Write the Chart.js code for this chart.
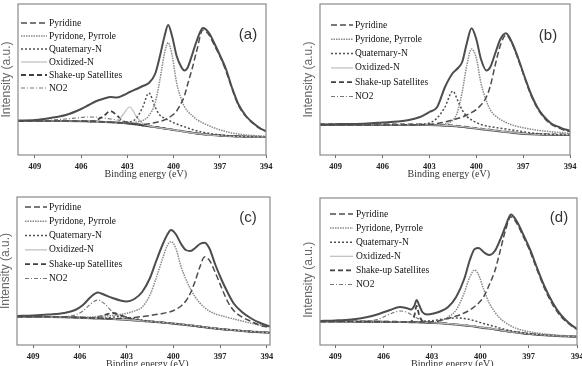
<!DOCTYPE html>
<html>
<head>
<meta charset="utf-8">
<script src="https://cdn.jsdelivr.net/npm/chart.js@4/dist/chart.umd.min.js"></script>
<style>
  html, body { margin: 0; padding: 0; background: #fff; }
  body { width: 582px; height: 366px; position: relative; overflow: hidden; }
  canvas { position: absolute; }
</style>
</head>
<body>
<canvas id="pa"></canvas>
<canvas id="pb"></canvas>
<canvas id="pc"></canvas>
<canvas id="pd"></canvas>
<script>
// binding energy ticks, same for all four panels
const xTicks = [409, 406, 403, 400, 397, 394];

// ---- panel (a)
const aBE = [410.1, 409, 408, 407, 406, 405.5, 405, 404.5, 404.1, 403.7, 403.3, 402.85, 402.4, 402, 401.6, 401.2, 400.9, 400.6, 400.35, 400.1, 399.8, 399.5, 399.3, 399.1, 398.8, 398.5, 398.1, 397.7, 397.3, 397, 396.6, 396.2, 395.8, 395.3, 394.8, 394.3, 394];
const aEnvelope = [34.5, 35, 37, 40, 46, 50, 54, 56.5, 58, 57.5, 59.5, 63, 66, 69, 72, 81, 98, 118, 130, 119, 99, 88, 84.5, 87, 100, 114, 127, 122, 110, 100, 86, 67, 51, 39, 31.5, 26, 24];
const aPyridine = [34, 34, 34, 34, 33.8, 33.6, 33.4, 33.1, 32.8, 32.4, 31.9, 31.4, 31.0, 30.6, 31.2, 32.5, 33.5, 35, 37, 39.5, 44, 52, 59, 70, 86, 104, 125, 120, 108, 99, 84, 66, 50, 38.5, 31, 25.5, 23.5];
const aPyridone = [34, 34, 34, 34, 33.8, 33.6, 33.5, 33.2, 33.0, 32.6, 32.2, 31.9, 33.0, 34.5, 39.5, 52, 74, 101, 112.3, 100, 72, 56, 48.5, 44, 39.5, 35.5, 32, 29.2, 26.8, 25.2, 23.5, 22.0, 21.0, 20.0, 19.4, 19.0, 18.8];
const aQuaternary = [34, 34, 34, 34, 33.8, 33.6, 33.4, 33.1, 32.9, 32.6, 32.4, 33, 37, 48, 62, 48, 40, 37, 35, 33, 31, 29.3, 28.2, 27.1, 25.6, 24.2, 22.8, 21.7, 20.8, 20.3, 19.6, 19.1, 18.8, 18.5, 18.3, 18.2, 18.1];
const aOxidized = [34, 34, 34, 34, 33.8, 33.6, 33.4, 33.1, 32.8, 33.5, 40, 48, 38, 31.5, 29.2, 28.0, 27.2, 26.5, 25.9, 25.3, 24.6, 23.9, 23.4, 22.9, 22.2, 21.5, 20.8, 20.2, 19.7, 19.4, 19.0, 18.7, 18.5, 18.3, 18.2, 18.1, 18];
const aShakeup = [34, 34, 34, 34, 33.9, 33.8, 35, 39.5, 44, 40, 34, 31.8, 30.6, 29.7, 28.9, 28.0, 27.3, 26.6, 26.0, 25.4, 24.7, 24.0, 23.5, 23.0, 22.3, 21.6, 20.9, 20.3, 19.8, 19.5, 19.1, 18.8, 18.6, 18.4, 18.3, 18.2, 18.1];
const aNO2 = [34, 34.2, 34.8, 36, 37.5, 38, 37.8, 37, 36, 35, 33.8, 32.5, 31.2, 30, 29.1, 28.2, 27.5, 26.8, 26.2, 25.6, 24.9, 24.2, 23.7, 23.2, 22.5, 21.8, 21.1, 20.5, 20.0, 19.7, 19.3, 19.0, 18.8, 18.6, 18.5, 18.4, 18.3];
const aBaseline = [34, 34, 34, 34, 33.8, 33.6, 33.4, 33.1, 32.8, 32.4, 31.9, 31.2, 30.4, 29.6, 28.8, 27.9, 27.2, 26.5, 25.9, 25.3, 24.6, 23.9, 23.4, 22.9, 22.2, 21.5, 20.8, 20.2, 19.7, 19.4, 19.0, 18.7, 18.5, 18.3, 18.2, 18.1, 18];

// ---- panel (b)
const bBE = [410, 409, 408, 407, 406, 405, 404.3, 403.6, 403, 402.5, 402, 401.5, 401.2, 400.9, 400.6, 400.3, 400, 399.7, 399.35, 399.1, 398.8, 398.45, 398.1, 397.7, 397.3, 396.9, 396.5, 396.1, 395.7, 395.2, 394.7, 394.3, 394];
const bEnvelope = [30.5, 30.8, 31, 31.5, 32.5, 33.5, 35, 38, 43, 48, 68, 82, 86.5, 93, 112, 126.7, 116, 96, 84.5, 88, 101, 116, 121.7, 112, 96, 78, 61, 48, 39, 31.5, 28, 25.5, 24.5];
const bPyridine = [30, 30, 30, 30, 30, 30.1, 30.2, 30.4, 30.7, 31.5, 33, 35, 36.5, 38, 40, 42.5, 45.5, 50, 58, 69, 89, 110, 120, 111, 95, 77, 60, 47, 38, 30.5, 27, 24.5, 23.5];
const bPyridone = [30, 30, 30, 30, 30, 30, 30, 30, 30, 29.8, 31, 35, 43, 63, 90, 106, 97, 72, 54, 45, 39.5, 35.5, 32.5, 30, 28.3, 27, 25.8, 24.8, 24, 23.2, 22.5, 22, 21.8];
const bQuaternary = [30, 30, 30, 30, 30, 30, 30, 30.5, 32, 37, 48, 64, 55, 45, 38.5, 35, 32.5, 30.5, 29, 28.3, 27.6, 26.8, 26, 25, 24, 23, 22.2, 21.5, 21, 20.5, 20.2, 20.1, 20];
const bOxidized = [30.3, 30.3, 30.3, 30.3, 30.3, 30.3, 30.3, 30.3, 30.2, 30, 29.6, 29.3, 28.9, 28.4, 27.9, 27.3, 26.7, 26.1, 25.5, 25.1, 24.5, 23.8, 23.2, 22.5, 21.9, 21.4, 21, 20.7, 20.5, 20.4, 20.3, 20.3, 20.3];
const bShakeup = [30.6, 30.6, 30.6, 30.6, 30.6, 30.6, 30.6, 30.5, 30.4, 30.2, 29.9, 29.5, 29.1, 28.6, 28.1, 27.5, 26.9, 26.3, 25.7, 25.3, 24.7, 24, 23.4, 22.7, 22.1, 21.6, 21.2, 20.9, 20.7, 20.6, 20.5, 20.5, 20.5];
const bNO2 = [31, 31, 31, 30.9, 30.8, 30.7, 30.6, 30.5, 30.3, 30, 29.6, 29.2, 28.8, 28.3, 27.8, 27.2, 26.6, 26, 25.4, 25, 24.4, 23.7, 23.1, 22.4, 21.8, 21.3, 20.9, 20.6, 20.4, 20.3, 20.2, 20.2, 20.2];
const bBaseline = [30, 30, 30, 30, 30, 30, 30, 30, 29.9, 29.7, 29.3, 29, 28.6, 28.1, 27.6, 27, 26.4, 25.8, 25.2, 24.8, 24.2, 23.5, 22.9, 22.2, 21.6, 21.1, 20.7, 20.4, 20.2, 20.1, 20, 20, 20];

// ---- panel (c)
const cBE = [410.03, 409, 408, 407, 406.3, 405.8, 405.3, 404.85, 404.4, 403.9, 403.4, 403, 402.5, 402, 401.5, 401.1, 400.7, 400.4, 400.15, 399.85, 399.5, 399.2, 398.9, 398.6, 398.3, 398, 397.7, 397.3, 396.9, 396.5, 396.1, 395.6, 395, 394.5, 393.8];
const cEnvelope = [29, 29.5, 30.5, 32, 35, 40, 48, 52.5, 50, 47, 44.5, 43.5, 46, 53, 67, 84, 100, 110, 115, 111, 101, 95, 94, 97, 101, 102.3, 97, 80, 65, 52, 41, 33, 26.5, 22.5, 18.5];
const cPyridine = [28.3, 28.3, 28.2, 28, 27.7, 27.4, 27.1, 26.8, 26.5, 26.3, 26.5, 27, 27.5, 28.5, 29.5, 30.5, 31.5, 32.5, 33.5, 35.5, 39, 44, 52, 64, 78, 88, 85, 72, 57, 43, 34, 28, 23.5, 20, 17.5];
const cPyridone = [28, 28, 28, 28, 28, 28, 28, 28.5, 29, 29.5, 30.5, 31.7, 34, 38, 50, 67, 86, 99, 103.3, 97, 78, 66, 56, 48, 42, 37.5, 34, 31, 29.3, 27.5, 26, 24, 21.7, 20, 18.5];
const cQuaternary = [28.2, 28.2, 28.1, 27.9, 27.6, 27.3, 27, 26.8, 26.8, 27.8, 28.5, 28, 26.5, 25, 23.7, 23.1, 22.6, 22.2, 21.8, 21.3, 20.7, 20.2, 19.7, 19.1, 18.5, 17.9, 17.3, 16.6, 16, 15.4, 14.9, 14.2, 13.5, 13, 12.4];
const cOxidized = [28.2, 28.2, 28.1, 27.9, 27.6, 27.3, 27, 26.7, 26.4, 26.1, 25.7, 25.3, 24.8, 24.2, 23.6, 23.1, 22.6, 22.2, 21.8, 21.3, 20.7, 20.2, 19.7, 19.1, 18.5, 17.9, 17.3, 16.6, 16, 15.4, 14.9, 14.2, 13.5, 13, 12.4];
const cShakeup = [28.1, 28.1, 28, 27.8, 27.5, 27.3, 27, 28, 30, 32, 30, 27.5, 25.5, 24.3, 23.6, 23.1, 22.6, 22.2, 21.8, 21.3, 20.7, 20.2, 19.7, 19.1, 18.5, 17.9, 17.3, 16.6, 16, 15.4, 14.9, 14.2, 13.5, 13, 12.4];
const cNO2 = [28, 28, 28, 28.5, 30, 34, 41, 45, 41, 33, 28, 26, 24.9, 24.2, 23.5, 23, 22.5, 22.1, 21.7, 21.2, 20.6, 20.1, 19.6, 19, 18.4, 17.8, 17.2, 16.5, 15.9, 15.3, 14.8, 14.1, 13.4, 12.9, 12.3];
const cBaseline = [28, 28, 27.9, 27.7, 27.4, 27.1, 26.8, 26.5, 26.2, 25.9, 25.5, 25.1, 24.6, 24, 23.4, 22.9, 22.4, 22, 21.6, 21.1, 20.5, 20, 19.5, 18.9, 18.3, 17.7, 17.1, 16.4, 15.8, 15.2, 14.7, 14, 13.3, 12.8, 12.2];

// ---- panel (d)
const dBE = [409.95, 409, 408, 407, 406.3, 405.6, 405, 404.6, 404.3, 404.1, 403.95, 403.8, 403.6, 403.3, 402.9, 402.5, 402, 401.5, 401, 400.65, 400.35, 400.1, 399.8, 399.45, 399.1, 398.8, 398.45, 398.1, 397.75, 397.35, 396.9, 396.5, 396, 395.5, 395, 394.5, 394];
const dEnvelope = [24, 24.5, 25.5, 28, 31, 35, 38, 37, 35.5, 39, 45, 40, 33, 30.5, 31.5, 33.5, 38, 48, 66, 85, 96, 97, 93, 90, 94, 104, 118, 130.5, 124, 111, 95, 78, 58, 42, 30, 22, 16];
const dPyridine = [23.5, 23.5, 23.4, 23.3, 23.2, 23.1, 23.1, 23.1, 23.1, 23.1, 23.1, 23.1, 23.1, 23.1, 23.2, 24.5, 26.5, 29, 32, 35, 38.5, 42, 48, 60, 74, 92, 114, 128.3, 122, 109, 93, 76, 56, 40, 28.5, 21, 15.5];
const dPyridone = [23.5, 23.5, 23.4, 23.3, 23.2, 23.1, 23, 22.9, 22.8, 22.7, 22.7, 22.6, 22.5, 22.4, 22.5, 24, 28, 35, 52, 68, 75, 70, 56, 42, 33, 27, 22.5, 19, 16.5, 14.5, 13, 12, 11, 10.2, 9.6, 9.2, 8.9];
const dQuaternary = [23.6, 23.6, 23.5, 23.4, 23.3, 23.2, 23.1, 23, 23, 23.1, 23.2, 23.3, 23.5, 24, 24.5, 25.5, 26.5, 27, 26.5, 25.5, 24.2, 23, 21.5, 20, 18.5, 17, 15.5, 14.2, 13.2, 12.2, 11.3, 10.6, 10, 9.5, 9.1, 8.8, 8.6];
const dOxidized = [23.7, 23.7, 23.6, 23.5, 23.4, 23.3, 23.2, 23.1, 23, 22.9, 22.9, 22.8, 22.7, 22.5, 22.2, 21.9, 21.3, 20.6, 19.8, 19.2, 18.6, 18, 17.3, 16.7, 15.8, 15, 14.2, 13.4, 12.6, 11.8, 11.1, 10.5, 9.9, 9.4, 9, 8.7, 8.5];
const dShakeup = [23.7, 23.7, 23.6, 23.5, 23.4, 23.3, 23.2, 23.1, 23.5, 29, 39, 30, 24, 22.6, 22.2, 21.9, 21.3, 20.6, 19.8, 19.2, 18.6, 18, 17.3, 16.7, 15.8, 15, 14.2, 13.4, 12.6, 11.8, 11.1, 10.5, 9.9, 9.4, 9, 8.7, 8.5];
const dNO2 = [23.6, 23.6, 23.6, 23.8, 26, 31, 34, 33, 30.5, 28.5, 27, 26, 24.5, 23, 22.3, 21.9, 21.3, 20.6, 19.8, 19.2, 18.6, 18, 17.3, 16.7, 15.8, 15, 14.2, 13.4, 12.6, 11.8, 11.1, 10.5, 9.9, 9.4, 9, 8.7, 8.5];
const dBaseline = [23.5, 23.5, 23.4, 23.3, 23.2, 23.1, 23, 22.9, 22.8, 22.7, 22.7, 22.6, 22.5, 22.3, 22, 21.7, 21.1, 20.4, 19.6, 19, 18.4, 17.8, 17.1, 16.5, 15.6, 14.8, 14, 13.2, 12.4, 11.6, 10.9, 10.3, 9.7, 9.2, 8.8, 8.5, 8.3];

// line look of each curve (envelope + baseline are not in the legend)
const look = {
  envelope:   { color: '#4d4d4d', width: 2,   dash: [] },
  pyridine:   { color: '#4d4d4d', width: 1.5, dash: [6, 3] },
  pyridone:   { color: '#8a8a8a', width: 1.5, dash: [1.5, 1] },
  quaternary: { color: '#505050', width: 1.5, dash: [2, 2] },
  oxidized:   { color: '#bdbdbd', width: 1.2, dash: [] },
  shakeup:    { color: '#404040', width: 1.8, dash: [5, 3] },
  no2:        { color: '#777', width: 1.2, dash: [4, 2, 1, 2] },
  baseline:   { color: '#505050', width: 2,   dash: [] }
};

// frame, legend in the plot area and the panel letter
const deco = {
  id: 'deco',
  afterDraw(chart, args, o) {
    const ctx = chart.ctx, a = chart.chartArea;
    ctx.save();
    ctx.strokeStyle = '#8a8a8a';
    ctx.lineWidth = 1.2;
    ctx.strokeRect(a.left, a.top, a.right - a.left, a.bottom - a.top);

    ctx.font = '9.5px "Liberation Serif"';
    ctx.textBaseline = 'middle';
    ctx.textAlign = 'left';
    let y = a.top + o.y0;
    chart.data.datasets.forEach(ds => {
      if (!ds.inLegend) return;
      ctx.beginPath();
      ctx.setLineDash(ds.borderDash);
      ctx.strokeStyle = ds.borderColor;
      ctx.lineWidth = ds.borderWidth;
      ctx.moveTo(a.left + o.x0, y);
      ctx.lineTo(a.left + o.x1, y);
      ctx.stroke();
      ctx.setLineDash([]);
      ctx.fillStyle = '#111';
      ctx.fillText(ds.label, a.left + o.tx, y);
      y += o.dy;
    });

    ctx.font = '15px "Liberation Sans"';
    ctx.textAlign = 'center';
    ctx.fillStyle = '#333';
    ctx.fillText(o.letter, a.left + o.lx, a.top + o.ly);
    ctx.restore();
  }
};

function line(label, data, key, inLegend) {
  const s = look[key];
  return {
    label: label, data: data, inLegend: inLegend,
    borderColor: s.color, borderWidth: s.width, borderDash: s.dash,
    pointRadius: 0, fill: false, cubicInterpolationMode: 'monotone'
  };
}

function panel(id, box, rp, beMin, beMax, be, s, leg) {
  const [l, t, r, b] = box;
  const cv = document.getElementById(id);
  const left = l - 18, top = t - 4;
  cv.width = r - left + rp;
  cv.height = b - top + 28;
  cv.style.left = left + 'px';
  cv.style.top = top + 'px';

  new Chart(cv, {
    type: 'line',
    data: {
      labels: be,
      datasets: [
        line('Envelope', s[0], 'envelope', false),
        line('Pyridine', s[1], 'pyridine', true),
        line('Pyridone, Pyrrole', s[2], 'pyridone', true),
        line('Quaternary-N', s[3], 'quaternary', true),
        line('Oxidized-N', s[4], 'oxidized', true),
        line('Shake-up Satellites', s[5], 'shakeup', true),
        line('NO2', s[6], 'no2', true),
        line('Background', s[7], 'baseline', false)
      ]
    },
    options: {
      responsive: false,
      animation: false,
      devicePixelRatio: 1,
      layout: { padding: { left: 0, top: 4, right: rp, bottom: 0 } },
      plugins: { legend: { display: false }, tooltip: { enabled: false }, deco: leg },
      scales: {
        x: {
          type: 'linear', reverse: true, min: beMin, max: beMax,
          afterBuildTicks: sc => { sc.ticks = xTicks.map(v => ({ value: v })); },
          afterFit: sc => { sc.height = 28; },
          grid: { drawOnChartArea: false, drawTicks: true, tickLength: 3, color: '#666' },
          border: { display: false },
          ticks: {
            autoSkip: false, maxRotation: 0, padding: 3.5, color: '#222',
            font: { family: '"Liberation Serif"', size: 8.5, weight: 'bold' }
          },
          title: {
            display: true, text: '   Binding energy (eV)', color: '#333',
            font: { family: '"Liberation Serif"', size: 10 },
            padding: { top: 0, bottom: 2.5 }
          }
        },
        y: {
          min: 0, max: b - t,
          afterFit: sc => { sc.width = 18; },
          ticks: { display: false },
          grid: { display: false },
          border: { display: false },
          title: {
            display: true, text: 'Intensity (a.u.)' + (leg.ySpace || ''), color: '#666',
            font: { family: '"Liberation Sans"', size: 12, lineHeight: 1 },
            padding: { top: 1, bottom: 0 }
          }
        }
      }
    },
    plugins: [deco]
  });
}

panel('pa', [18, 4, 266, 155], 25, 410.1, 394, aBE,
  [aEnvelope, aPyridine, aPyridone, aQuaternary, aOxidized, aShakeup, aNO2, aBaseline],
  { x0: 3, x1: 29, tx: 31, y0: 19, dy: 13, letter: '(a)', lx: 230, ly: 31 });
panel('pb', [320, 4, 570, 155], 12, 410, 394, bBE,
  [bEnvelope, bPyridine, bPyridone, bQuaternary, bOxidized, bShakeup, bNO2, bBaseline],
  { x0: 11, x1: 33, tx: 35, y0: 21, dy: 14.3, letter: '(b)', lx: 228, ly: 32 });
panel('pc', [17, 197, 270, 345], 21, 410.03, 393.8, cBE,
  [cEnvelope, cPyridine, cPyridone, cQuaternary, cOxidized, cShakeup, cNO2, cBaseline],
  { x0: 8, x1: 30, tx: 32, y0: 10, dy: 14.3, letter: '(c)', lx: 231, ly: 21 });
panel('pd', [320, 198, 577, 345], 25, 409.95, 394, dBE,
  [dEnvelope, dPyridine, dPyridone, dQuaternary, dOxidized, dShakeup, dNO2, dBaseline],
  { x0: 10, x1: 33, tx: 36, y0: 16, dy: 14.1, letter: '(d)', lx: 239, ly: 20, ySpace: '     ' });
</script>
</body>
</html>
